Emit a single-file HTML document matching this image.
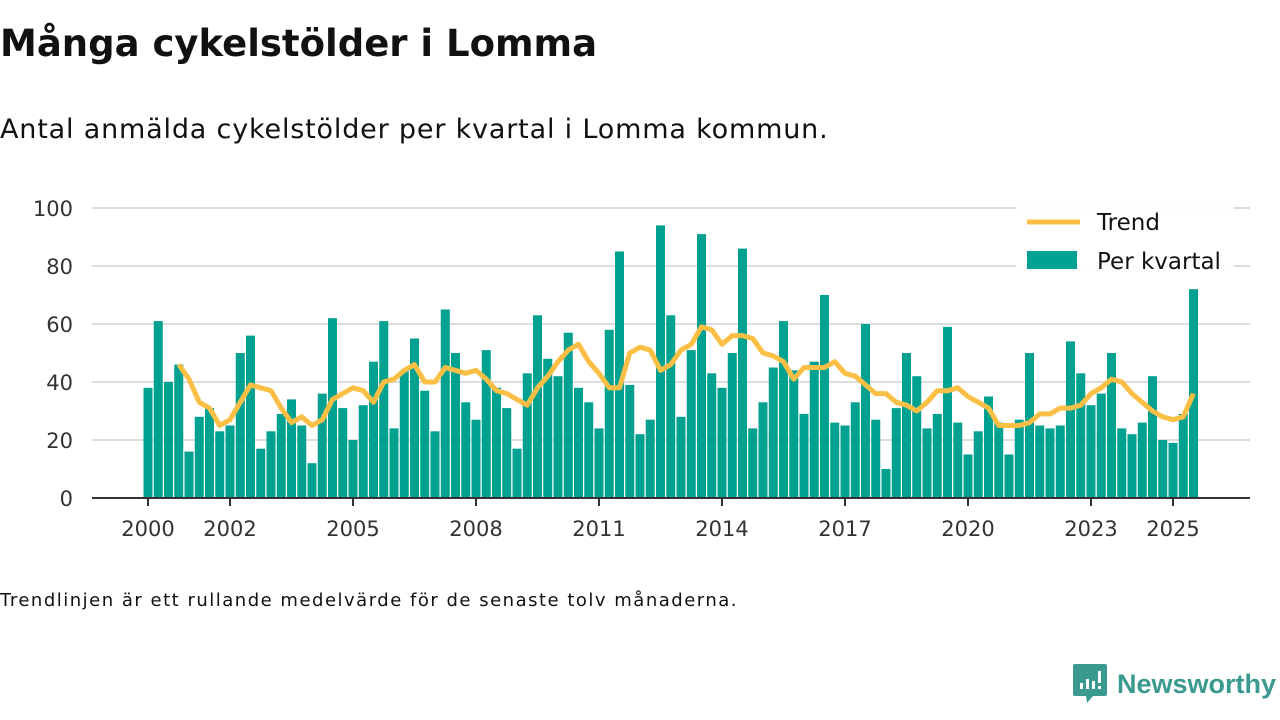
<!DOCTYPE html>
<html><head><meta charset="utf-8"><style>
body{margin:0;width:1280px;height:720px;background:#fff;font-family:"DejaVu Sans","Liberation Sans",sans-serif;overflow:hidden;position:relative}
h1{position:absolute;left:0;top:22px;margin:0;font-size:37px;font-weight:bold;color:#111}
.sub{position:absolute;left:0;top:114px;font-size:27px;letter-spacing:0.82px;color:#111}
.foot{position:absolute;left:0;top:590px;font-size:18px;letter-spacing:1.5px;color:#111}
.logo{position:absolute;left:1073px;top:664px;display:flex;align-items:center}
.logo span{font-family:"Liberation Sans",sans-serif;font-weight:bold;font-size:27px;color:#3a9a8f;margin-left:10px}
</style></head><body>
<h1>Många cykelstölder i Lomma</h1>
<div class="sub">Antal anmälda cykelstölder per kvartal i Lomma kommun.</div>
<svg id="chart" width="1280" height="720" style="position:absolute;left:0;top:0"></svg>
<div class="foot">Trendlinjen är ett rullande medelvärde för de senaste tolv månaderna.</div>
<div class="logo">
<svg width="34" height="40" viewBox="0 0 34 40"><path d="M2 0h30a2 2 0 0 1 2 2v28a2 2 0 0 1-2 2H20l-6 7-1-7H2a2 2 0 0 1-2-2V2a2 2 0 0 1 2-2z" fill="#3a9a8f"/><rect x="7" y="19" width="3" height="6" fill="#fff"/><rect x="13" y="15" width="3" height="10" fill="#fff"/><rect x="19" y="17" width="3" height="8" fill="#fff"/><rect x="25" y="7" width="3" height="12" fill="#fff"/><rect x="25" y="22" width="3" height="3" fill="#fff"/></svg>
<span>Newsworthy</span></div>
<script>
const values=[38,61,40,46,16,28,31,23,25,50,56,17,23,29,34,25,12,36,62,31,20,32,47,61,24,44,55,37,23,65,50,33,27,51,38,31,17,43,63,48,42,57,38,33,24,58,85,39,22,27,94,63,28,51,91,43,38,50,86,24,33,45,61,44,29,47,70,26,25,33,60,27,10,31,50,42,24,29,59,26,15,23,35,26,15,27,50,25,24,25,54,43,32,36,50,24,22,26,42,20,19,29,72];
const trend=[null,null,null,46,41,33,31,25,27,33,39,38,37,31,26,28,25,27,34,36,38,37,33,40,41,44,46,40,40,45,44,43,44,41,37,36,34,32,38,42,47,51,53,47,43,38,38,50,52,51,44,46,51,53,59,58,53,56,56,55,50,49,47,41,45,45,45,47,43,42,39,36,36,33,32,30,33,37,37,38,35,33,31,25,25,25,26,29,29,31,31,32,36,38,41,40,36,33,30,28,27,28,36];
const yTicks=[0,20,40,60,80,100];
const xTicks=[2000,2002,2005,2008,2011,2014,2017,2020,2023,2025];
const svg=document.getElementById('chart');const NS='http://www.w3.org/2000/svg';
const y=v=>498-v*2.9;const x=i=>148+i*10.25;const xy=yr=>x((yr-2000)*4);
function mk(t,a,p){const e=document.createElementNS(NS,t);for(const k in a)e.setAttribute(k,a[k]);(p||svg).appendChild(e);return e;}
yTicks.forEach(t=>{if(t>0){const g=mk('line',{x1:92,x2:1250,y1:y(t),y2:y(t),stroke:'#ddd','stroke-width':2});}
const l=mk('text',{x:73,y:y(t)+8,'text-anchor':'end','font-size':21,fill:'#333'});l.textContent=t;});
values.forEach((v,i)=>{const b=mk('rect',{x:x(i)-4.5,y:y(v),width:9,height:v*2.9,fill:'#00a191'});});
const ax=mk('line',{x1:92,x2:1250,y1:498,y2:498,stroke:'#333','stroke-width':2});
xTicks.forEach(t=>{const tk=mk('line',{x1:xy(t),x2:xy(t),y1:498,y2:506,stroke:'#333','stroke-width':2});
const l=mk('text',{x:xy(t),y:536,'text-anchor':'middle','font-size':21,fill:'#333'});l.textContent=t;});
let d='';trend.forEach((v,i)=>{if(v!=null)d+=(d?'L':'M')+x(i)+' '+y(v);});
const p=mk('path',{d:d,fill:'none',stroke:'#fbbf45','stroke-width':5,'stroke-linejoin':'round'});
const lg=mk('g',{});
mk('rect',{x:1016,y:206,width:218,height:76,fill:'#fff','fill-opacity':0.9},lg);
mk('line',{x1:1027,x2:1080,y1:222,y2:222,stroke:'#fbbf45','stroke-width':5},lg);
const t1=mk('text',{x:1097,y:230,'font-size':23,fill:'#111'},lg);t1.textContent='Trend';
mk('rect',{x:1027,y:251,width:50,height:18,fill:'#00a191'},lg);
const t2=mk('text',{x:1097,y:269,'font-size':23,fill:'#111'},lg);t2.textContent='Per kvartal';
</script>
</body></html>
